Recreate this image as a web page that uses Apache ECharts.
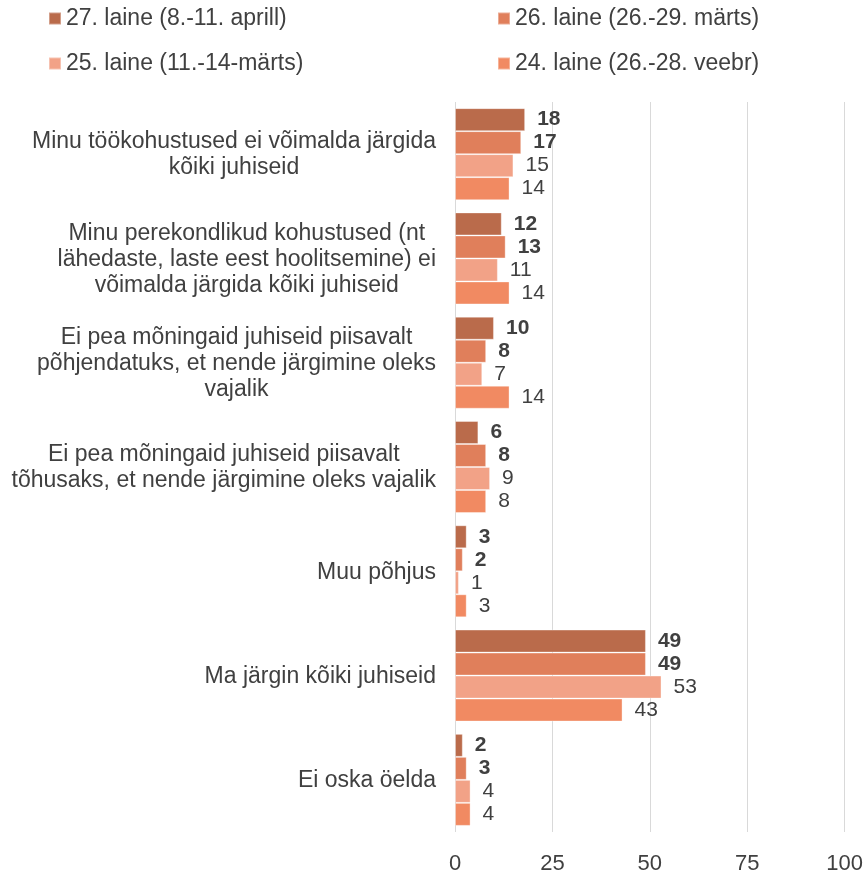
<!DOCTYPE html>
<html>
<head>
<meta charset="utf-8">
<style>
  html, body { margin: 0; padding: 0; background: #fff; }
  #main { width: 866px; height: 877px; }
</style>
<script src="https://cdn.jsdelivr.net/npm/echarts@6/dist/echarts.min.js"></script>
</head>
<body>
<div id="main"></div>
<script>
var categories = [
    'Minu töökohustused ei võimalda järgida\nkõiki juhiseid',
    'Minu perekondlikud kohustused (nt\nlähedaste, laste eest hoolitsemine) ei\nvõimalda järgida kõiki juhiseid',
    'Ei pea mõningaid juhiseid piisavalt\npõhjendatuks, et nende järgimine oleks\nvajalik',
    'Ei pea mõningaid juhiseid piisavalt\ntõhusaks, et nende järgimine oleks vajalik',
    'Muu põhjus',
    'Ma järgin kõiki juhiseid',
    'Ei oska öelda'
];
var seriesNames = ['27. laine (8.-11. aprill)', '26. laine (26.-29. märts)', '25. laine (11.-14-märts)', '24. laine (26.-28. veebr)'];
var wave27 = [18, 12, 10, 6, 3, 49, 2];
var wave26 = [17, 13, 8, 8, 2, 49, 3];
var wave25 = [15, 11, 7, 9, 1, 53, 4];
var wave24 = [14, 14, 14, 8, 3, 43, 4];
var xTicks = [0, 25, 50, 75, 100];

var colors = ['#BA6B4B', '#E07F5B', '#F2A287', '#F18A62'];
var textColor = '#404040';
var font = 'Liberation Sans, Arial, sans-serif';

var myChart = echarts.init(document.getElementById('main'));

function makeSeries(i, data, bold) {
    return {
        name: seriesNames[i],
        type: 'bar',
        data: data,
        barWidth: 23,
        barGap: '0%',
        itemStyle: { color: colors[i], borderColor: 'rgba(255,255,255,0.35)', borderWidth: 1 },
        label: {
            show: true,
            position: 'right',
            distance: 12,
            color: textColor,
            fontFamily: font,
            fontSize: 21,
            fontWeight: bold ? 'bold' : 'normal'
        }
    };
}

// two legends, one per column
function makeLegend(left, names) {
    return {
        left: left, top: 7, orient: 'vertical', padding: 0,
        itemWidth: 12, itemHeight: 12, itemGap: 22,
        icon: 'rect',
        data: names,
        textStyle: { color: textColor, fontFamily: font, fontSize: 23 }
    };
}

var option = {
    animation: false,
    color: colors,
    legend: [
        makeLegend(48, [seriesNames[0], seriesNames[2]]),
        makeLegend(497, [seriesNames[1], seriesNames[3]])
    ],
    grid: { left: 455, right: 21, top: 102, bottom: 45, containLabel: false },
    xAxis: {
        type: 'value',
        min: 0, max: 100, interval: 25,
        axisLine: { show: false },
        axisTick: { show: false },
        splitLine: { lineStyle: { color: '#D9D9D9', width: 1 } },
        axisLabel: {
            color: textColor, fontFamily: font, fontSize: 22, margin: 21,
            formatter: function (v) { return xTicks.indexOf(v) >= 0 ? String(v) : ''; }
        }
    },
    yAxis: {
        type: 'category',
        inverse: true,
        data: categories,
        axisLine: { show: false },
        axisTick: { show: false },
        axisLabel: {
            margin: 19,
            align: 'right',
            lineHeight: 26,
            color: textColor, fontFamily: font, fontSize: 23,
            formatter: function (v) {
                return v.split('\n').map(function (s) { return '{c|' + s + '}'; }).join('\n');
            },
            rich: {
                c: { align: 'center', color: textColor, fontFamily: font, fontSize: 23, lineHeight: 26, padding: [2, 0, 0, 0] }
            }
        }
    },
    series: [
        makeSeries(0, wave27, true),
        makeSeries(1, wave26, true),
        makeSeries(2, wave25, false),
        makeSeries(3, wave24, false)
    ]
};
myChart.setOption(option);
</script>
</body>
</html>
